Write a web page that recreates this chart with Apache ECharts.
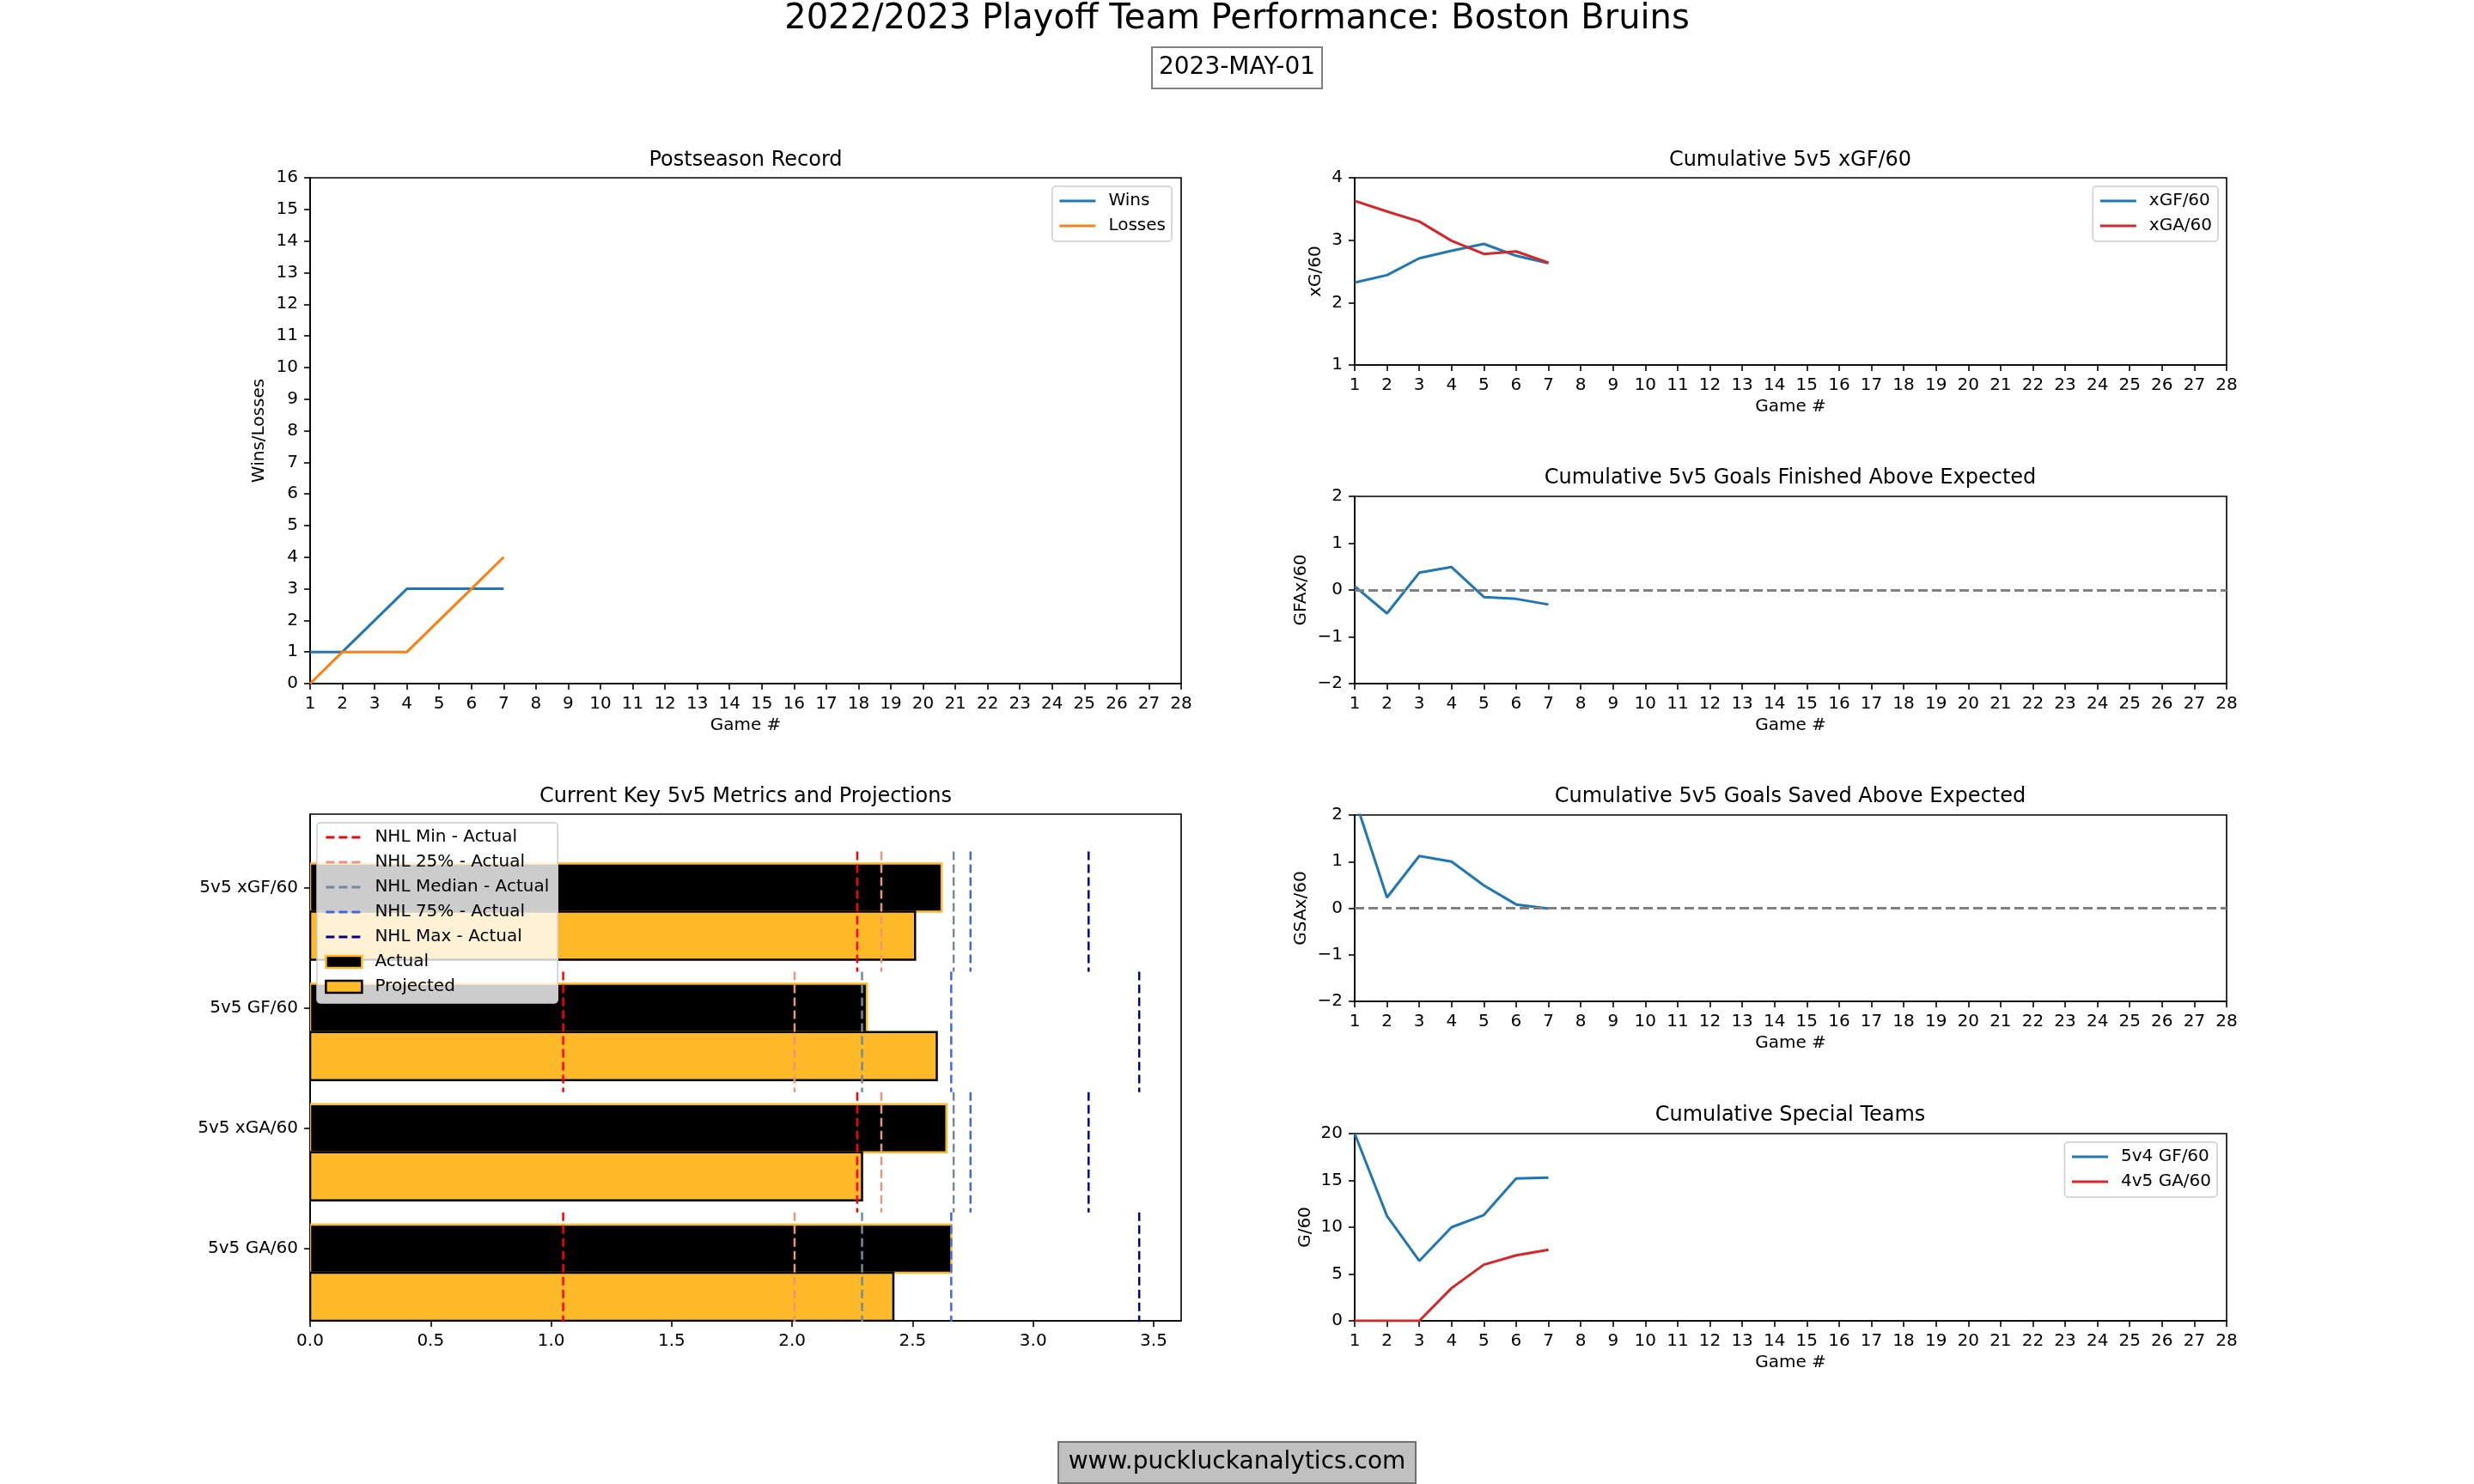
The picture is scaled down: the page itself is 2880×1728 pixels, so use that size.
<!DOCTYPE html>
<html>
<head>
<meta charset="utf-8">
<script src="https://cdn.jsdelivr.net/npm/echarts@6.0.0/dist/echarts.min.js"></script>
<style>
  html, body { margin: 0; padding: 0; background: #fff; }
  #chart { width: 2880px; height: 1728px; }
</style>
</head>
<body>
<div id="chart"></div>
<script>
// game-by-game playoff numbers
const games = [1, 2, 3, 4, 5, 6, 7];
const wins = [1, 1, 2, 3, 3, 3, 3];
const losses = [0, 1, 1, 1, 2, 3, 4];
const xgf60 = [2.32, 2.44, 2.71, 2.83, 2.94, 2.75, 2.63];
const xga60 = [3.63, 3.46, 3.30, 2.99, 2.78, 2.82, 2.64];
const gfax60 = [0.08, -0.50, 0.37, 0.49, -0.15, -0.19, -0.31];
const gsax60 = [2.36, 0.23, 1.12, 1.00, 0.49, 0.08, -0.01];
const ppGf60 = [20.0, 11.2, 6.4, 10.0, 11.3, 15.2, 15.3];
const pkGa60 = [0, 0, 0, 3.5, 6.0, 7.0, 7.6];

// key metrics (bar chart)
const metrics = ['5v5 xGF/60', '5v5 GF/60', '5v5 xGA/60', '5v5 GA/60'];
const actual = [2.62, 2.31, 2.64, 2.66];
const projected = [2.51, 2.60, 2.29, 2.42];
const nhlMin = [2.27, 1.05, 2.27, 1.05];
const nhl25 = [2.37, 2.01, 2.37, 2.01];
const nhlMedian = [2.67, 2.29, 2.67, 2.29];
const nhl75 = [2.74, 2.66, 2.74, 2.66];
const nhlMax = [3.23, 3.44, 3.23, 3.44];
const barTicks = [0, 0.5, 1, 1.5, 2, 2.5, 3, 3.5];
const metricTicks = [0, 1, 2, 3];

const FONT = 'DejaVu Sans';
const GOLD = '#FDB927';

const pairs = (ys) => games.map((g, i) => [g, ys[i]]);
const minus = (v) => String(v).replace('-', '\u2212');

const grids = [
  { left: 361, top: 207, width: 1014, height: 589 },   // postseason record
  { left: 361, top: 948, width: 1014, height: 590 },   // key metrics bars
  { left: 1577, top: 207, width: 1015, height: 218 },  // xGF/60
  { left: 1577, top: 578, width: 1015, height: 218 },  // GFAx
  { left: 1577, top: 949, width: 1015, height: 217 },  // GSAx
  { left: 1577, top: 1320, width: 1015, height: 218 }  // special teams
].map(g => Object.assign({ show: true, borderColor: '#000', borderWidth: 1.6, containLabel: false }, g));

const tick = { show: true, length: 7, inside: false, lineStyle: { color: '#000', width: 1.6 } };
const axLine = { show: true, onZero: false, lineStyle: { color: '#000', width: 1.6 } };
const lbl = { color: '#000', fontSize: 20, fontFamily: FONT, margin: 14 };

const gameAxis = (gi) => ({
  type: 'value', gridIndex: gi, min: 1, max: 28, interval: 1,
  axisLine: axLine, axisTick: tick, axisLabel: lbl, splitLine: { show: false },
  name: 'Game #', nameLocation: 'middle', nameGap: 39,
  nameTextStyle: { color: '#000', fontSize: 20, fontFamily: FONT }
});

const valAxis = (gi, min, max, interval, name, gap) => ({
  type: 'value', gridIndex: gi, min: min, max: max, interval: interval,
  axisLine: axLine, axisTick: tick, splitLine: { show: false },
  axisLabel: Object.assign({ formatter: minus }, lbl),
  name: name, nameLocation: 'middle', nameGap: gap, nameRotate: 90,
  nameTextStyle: { color: '#000', fontSize: 20, fontFamily: FONT }
});

const xAxes = [
  gameAxis(0),
  {
    type: 'value', gridIndex: 1, min: 0, max: 3.614,
    axisLine: axLine, splitLine: { show: false },
    axisTick: Object.assign({ customValues: barTicks }, tick),
    axisLabel: Object.assign({ customValues: barTicks, formatter: v => v.toFixed(1) }, lbl)
  },
  gameAxis(2), gameAxis(3), gameAxis(4), gameAxis(5)
];

const yAxes = [
  valAxis(0, 0, 16, 1, 'Wins/Losses', 49),
  {
    type: 'value', gridIndex: 1, min: -0.61, max: 3.6, inverse: true,
    axisLine: axLine, splitLine: { show: false },
    axisTick: Object.assign({ customValues: metricTicks }, tick),
    axisLabel: Object.assign({ customValues: metricTicks, formatter: v => metrics[Math.round(v)] }, lbl)
  },
  valAxis(2, 1, 4, 1, 'xG/60', 35),
  valAxis(3, -2, 2, 1, 'GFAx/60', 52),
  valAxis(4, -2, 2, 1, 'GSAx/60', 52),
  valAxis(5, 0, 20, 5, 'G/60', 47)
];

const line = (name, gi, ys, color, extra) => Object.assign({
  type: 'line', name: name, xAxisIndex: gi, yAxisIndex: gi, data: pairs(ys),
  symbol: 'none', showSymbol: false, color: color, clip: true,
  lineStyle: { color: color, width: 3 }, z: 3
}, extra || {});

const zeroLine = {
  silent: true, symbol: 'none', label: { show: false },
  lineStyle: { color: '#808080', type: [11, 5], width: 3 },
  data: [{ yAxis: 0 }]
};

const barRender = (offset, fill, stroke) => (params, api) => {
  const idx = api.value(1);
  const p0 = api.coord([0, idx + offset - 0.2]);
  const p1 = api.coord([api.value(0), idx + offset + 0.2]);
  return {
    type: 'rect',
    shape: { x: p0[0], y: Math.min(p0[1], p1[1]), width: p1[0] - p0[0], height: Math.abs(p1[1] - p0[1]) },
    style: { fill: fill, stroke: stroke, lineWidth: 2.5 }
  };
};

const nhlStats = [
  { name: 'NHL Min - Actual', values: nhlMin, color: '#ff0000' },
  { name: 'NHL 25% - Actual', values: nhl25, color: '#E9967A' },
  { name: 'NHL Median - Actual', values: nhlMedian, color: '#778899' },
  { name: 'NHL 75% - Actual', values: nhl75, color: '#4169E1' },
  { name: 'NHL Max - Actual', values: nhlMax, color: '#00008B' }
];

const series = [
  line('Wins', 0, wins, '#1f77b4'),
  line('Losses', 0, losses, '#ff7f0e'),
  {
    type: 'custom', name: 'Actual', xAxisIndex: 1, yAxisIndex: 1, clip: true,
    data: actual.map((v, i) => [v, i]), encode: { x: 0, y: 1 },
    itemStyle: { color: '#000' }, renderItem: barRender(0, '#000', GOLD), z: 2
  },
  {
    type: 'custom', name: 'Projected', xAxisIndex: 1, yAxisIndex: 1, clip: true,
    data: projected.map((v, i) => [v, i]), encode: { x: 0, y: 1 },
    itemStyle: { color: GOLD }, renderItem: barRender(0.4, GOLD, '#000'), z: 2
  },
  line('xGF/60', 2, xgf60, '#1f77b4'),
  line('xGA/60', 2, xga60, '#d62728'),
  line('GFAx/60', 3, gfax60, '#1f77b4', { markLine: zeroLine }),
  line('GSAx/60', 4, gsax60, '#1f77b4', { markLine: zeroLine }),
  line('5v4 GF/60', 5, ppGf60, '#1f77b4'),
  line('4v5 GA/60', 5, pkGa60, '#d62728')
];

nhlStats.forEach(s => {
  s.values.forEach((v, i) => {
    series.push({
      type: 'line', name: s.name, xAxisIndex: 1, yAxisIndex: 1,
      data: [[v, i - 0.3], [v, i + 0.7]], symbol: 'none', showSymbol: false,
      color: s.color, lineStyle: { color: s.color, width: 2.5, type: [10, 5] },
      clip: true, silent: true, z: 4
    });
  });
});

// legend: line icons only, hide the default marker in the middle
const legendBase = {
  orient: 'vertical', itemWidth: 42, itemHeight: 14, itemGap: 9,
  backgroundColor: 'rgba(255,255,255,0.8)', borderColor: '#cccccc', borderWidth: 1.5, borderRadius: 4,
  padding: [7, 7, 8, 7], selectedMode: false, z: 10,
  itemStyle: { opacity: 0 },
  lineStyle: { width: 3 },
  textStyle: { color: '#000', fontSize: 20, lineHeight: 20, fontFamily: FONT, padding: [0, 0, 0, 10] }
};

const legends = [
  Object.assign({}, legendBase, { right: 2880 - 1364, top: 217, data: ['Wins', 'Losses'] }),
  Object.assign({}, legendBase, { right: 298, top: 217, data: ['xGF/60', 'xGA/60'] }),
  Object.assign({}, legendBase, { right: 299, top: 1330, data: ['5v4 GF/60', '4v5 GA/60'] }),
  Object.assign({}, legendBase, {
    left: 369, top: 958, padding: [7, 10, 9, 9],
    lineStyle: { width: 2.8, type: [10, 5] },
    data: nhlStats.map(s => s.name).concat([
      { name: 'Actual', icon: 'rect', itemStyle: { opacity: 1, color: '#000', borderColor: GOLD, borderWidth: 2.5 } },
      { name: 'Projected', icon: 'rect', itemStyle: { opacity: 1, color: GOLD, borderColor: '#000', borderWidth: 2.5 } }
    ])
  })
];

const axTitle = (text, cx, cy) => ({
  text: text, left: cx, top: cy - 14, textAlign: 'center', padding: 0,
  textStyle: { color: '#000', fontSize: 24, lineHeight: 28, fontWeight: 'normal', fontFamily: FONT }
});

const titles = [
  {
    text: '2022/2023 Playoff Team Performance: Boston Bruins', left: 1440, top: 0, textAlign: 'center', padding: 0,
    textStyle: { color: '#000', fontSize: 40, lineHeight: 46, fontWeight: 'normal', fontFamily: FONT }
  },
  {
    text: '2023-MAY-01', left: 1440 - 8, top: 55, textAlign: 'center', padding: [7, 8],
    backgroundColor: '#fff', borderColor: '#808080', borderWidth: 2,
    textStyle: { color: '#000', fontSize: 28, lineHeight: 34, fontWeight: 'normal', fontFamily: FONT }
  },
  axTitle('Postseason Record', 868, 187),
  axTitle('Current Key 5v5 Metrics and Projections', 868, 928),
  axTitle('Cumulative 5v5 xGF/60', 2084, 187),
  axTitle('Cumulative 5v5 Goals Finished Above Expected', 2084, 557),
  axTitle('Cumulative 5v5 Goals Saved Above Expected', 2084, 928),
  axTitle('Cumulative Special Teams', 2084, 1299),
  {
    text: 'www.puckluckanalytics.com', left: 1440 - 12, top: 1679, textAlign: 'center', padding: [7, 12],
    backgroundColor: '#c0c0c0', borderColor: '#707070', borderWidth: 2,
    textStyle: { color: '#000', fontSize: 28, lineHeight: 34, fontWeight: 'normal', fontFamily: FONT }
  }
];

const chart = echarts.init(document.getElementById('chart'));
chart.setOption({
  animation: false,
  backgroundColor: '#fff',
  textStyle: { fontFamily: FONT },
  title: titles,
  legend: legends,
  grid: grids,
  xAxis: xAxes,
  yAxis: yAxes,
  series: series
});
</script>
</body>
</html>
